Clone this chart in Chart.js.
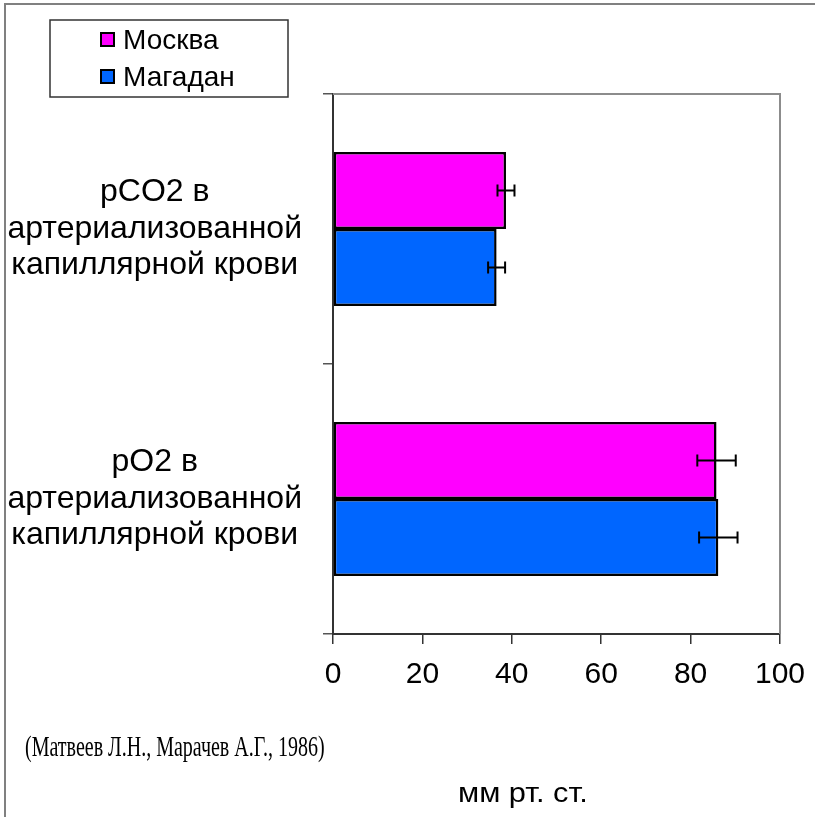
<!DOCTYPE html>
<html lang="ru">
<head>
<meta charset="utf-8">
<title>pCO2 и pO2: Москва и Магадан</title>
<script src="https://cdn.jsdelivr.net/npm/chart.js@4/dist/chart.umd.min.js"></script>
<style>
  html, body { margin: 0; padding: 0; background: #fff; }
  canvas { display: block; }
</style>
</head>
<body>
<canvas id="chart" width="815" height="817"></canvas>
<script>
// Показатели газов артериализованной капиллярной крови, мм рт. ст.
const categories = [
  ['pCO2 в', 'артериализованной', 'капиллярной крови'],
  ['pO2 в', 'артериализованной', 'капиллярной крови']
];
const seriesNames = ['Москва', 'Магадан'];
const moscowValues = [38.7, 85.8];
const magadanValues = [36.6, 86.2];
const moscowErrors = [1.9, 4.3];
const magadanErrors = [1.9, 4.3];
const xTicks = [0, 20, 40, 60, 80, 100];
const sourceNote = '(Матвеев Л.Н., Марачев А.Г., 1986)';
const unitLabel = 'мм рт. ст.';

const SANS = '"Liberation Sans", Arial, sans-serif';
const SERIF = '"Liberation Serif", "Times New Roman", serif';

// Рамка области построения (серые верх и правая сторона)
const plotFrame = {
  id: 'plotFrame',
  beforeDatasetsDraw(chart) {
    const { ctx, chartArea: a } = chart;
    ctx.save();
    ctx.strokeStyle = '#8c8c8c';
    ctx.lineWidth = 2;
    ctx.beginPath();
    ctx.moveTo(a.left, a.top);
    ctx.lineTo(a.right, a.top);
    ctx.lineTo(a.right, a.bottom);
    ctx.stroke();
    ctx.restore();
  }
};

// Планки погрешностей по значениям из errors каждого набора
const errorBars = {
  id: 'errorBars',
  afterDatasetsDraw(chart) {
    const { ctx } = chart;
    const xs = chart.scales.x;
    ctx.save();
    ctx.strokeStyle = '#000';
    ctx.lineWidth = 2;
    chart.data.datasets.forEach((ds, di) => {
      const meta = chart.getDatasetMeta(di);
      meta.data.forEach((bar, i) => {
        const v = ds.data[i];
        const e = ds.errors[i];
        const x1 = xs.getPixelForValue(v - e);
        const x2 = xs.getPixelForValue(v + e);
        const y = bar.y;
        const cap = 6;
        ctx.beginPath();
        ctx.moveTo(x1, y); ctx.lineTo(x2, y);
        ctx.moveTo(x1, y - cap); ctx.lineTo(x1, y + cap);
        ctx.moveTo(x2, y - cap); ctx.lineTo(x2, y + cap);
        ctx.stroke();
      });
    });
    ctx.restore();
  }
};

// Легенда в рамке, внешняя рамка слайда, источник и единицы измерения
const decorations = {
  id: 'decorations',
  afterDraw(chart) {
    const { ctx } = chart;
    ctx.save();

    // внешняя рамка
    ctx.strokeStyle = '#808080';
    ctx.lineWidth = 2;
    ctx.beginPath();
    ctx.moveTo(5, 817);
    ctx.lineTo(5, 4);
    ctx.lineTo(815, 4);
    ctx.stroke();

    // легенда
    ctx.fillStyle = '#fff';
    ctx.fillRect(50, 20, 238, 77);
    ctx.strokeStyle = '#333';
    ctx.lineWidth = 1.5;
    ctx.strokeRect(50, 20, 238, 77);
    const rows = [40, 77];
    chart.data.datasets.forEach((ds, i) => {
      const cy = rows[i];
      ctx.fillStyle = ds.backgroundColor;
      ctx.fillRect(101, cy - 7, 13, 13);
      ctx.strokeStyle = '#000';
      ctx.lineWidth = 2;
      ctx.strokeRect(101, cy - 7, 13, 13);
      ctx.fillStyle = '#000';
      ctx.font = '28px ' + SANS;
      ctx.textBaseline = 'middle';
      ctx.textAlign = 'left';
      ctx.fillText(ds.label, 123, cy + 1);
    });

    // источник
    ctx.fillStyle = '#000';
    ctx.font = '29px ' + SERIF;
    ctx.textBaseline = 'middle';
    ctx.textAlign = 'left';
    ctx.save();
    ctx.translate(25, 748);
    ctx.scale(0.69, 1);
    ctx.fillText(sourceNote, 0, 0);
    ctx.restore();

    // единицы измерения
    ctx.save();
    ctx.font = '27px ' + SANS;
    ctx.translate(458, 795);
    ctx.scale(1.14, 1);
    ctx.fillText(unitLabel, 0, 0);
    ctx.restore();

    ctx.restore();
  }
};

new Chart(document.getElementById('chart'), {
  type: 'bar',
  data: {
    labels: categories,
    datasets: [
      {
        label: seriesNames[0],
        data: moscowValues,
        errors: moscowErrors,
        backgroundColor: '#ff00ff',
        borderColor: '#000',
        borderWidth: 2.5,
        borderSkipped: false
      },
      {
        label: seriesNames[1],
        data: magadanValues,
        errors: magadanErrors,
        backgroundColor: '#0066ff',
        borderColor: '#000',
        borderWidth: 2.5,
        borderSkipped: false
      }
    ]
  },
  options: {
    indexAxis: 'y',
    responsive: false,
    animation: false,
    categoryPercentage: 0.57,
    barPercentage: 1.0,
    layout: { padding: { top: 94, right: 35, bottom: 123, left: 0 } },
    plugins: {
      legend: { display: false },
      tooltip: { enabled: false }
    },
    scales: {
      x: {
        min: 0,
        max: 100,
        afterBuildTicks(scale) { scale.ticks = xTicks.map(v => ({ value: v })); },
        afterFit(scale) {
          scale.height = 60;
          scale.paddingLeft = 0;
          scale.paddingRight = 0;
        },
        border: { color: '#333', width: 2 },
        grid: { drawOnChartArea: false, tickLength: 10, color: '#333', lineWidth: 1.5 },
        ticks: {
          color: '#000',
          padding: 13,
          font: { family: SANS, size: 30 }
        }
      },
      y: {
        offset: true,
        afterFit(scale) { scale.width = 333; },
        border: { color: '#333', width: 2 },
        grid: { offset: true, drawOnChartArea: false, tickLength: 10, color: '#555', lineWidth: 1.5 },
        ticks: {
          color: '#000',
          crossAlign: 'center',
          padding: 21,
          font: { family: SANS, size: 32, lineHeight: 1.14 }
        }
      }
    }
  },
  plugins: [plotFrame, errorBars, decorations]
});
</script>
</body>
</html>
